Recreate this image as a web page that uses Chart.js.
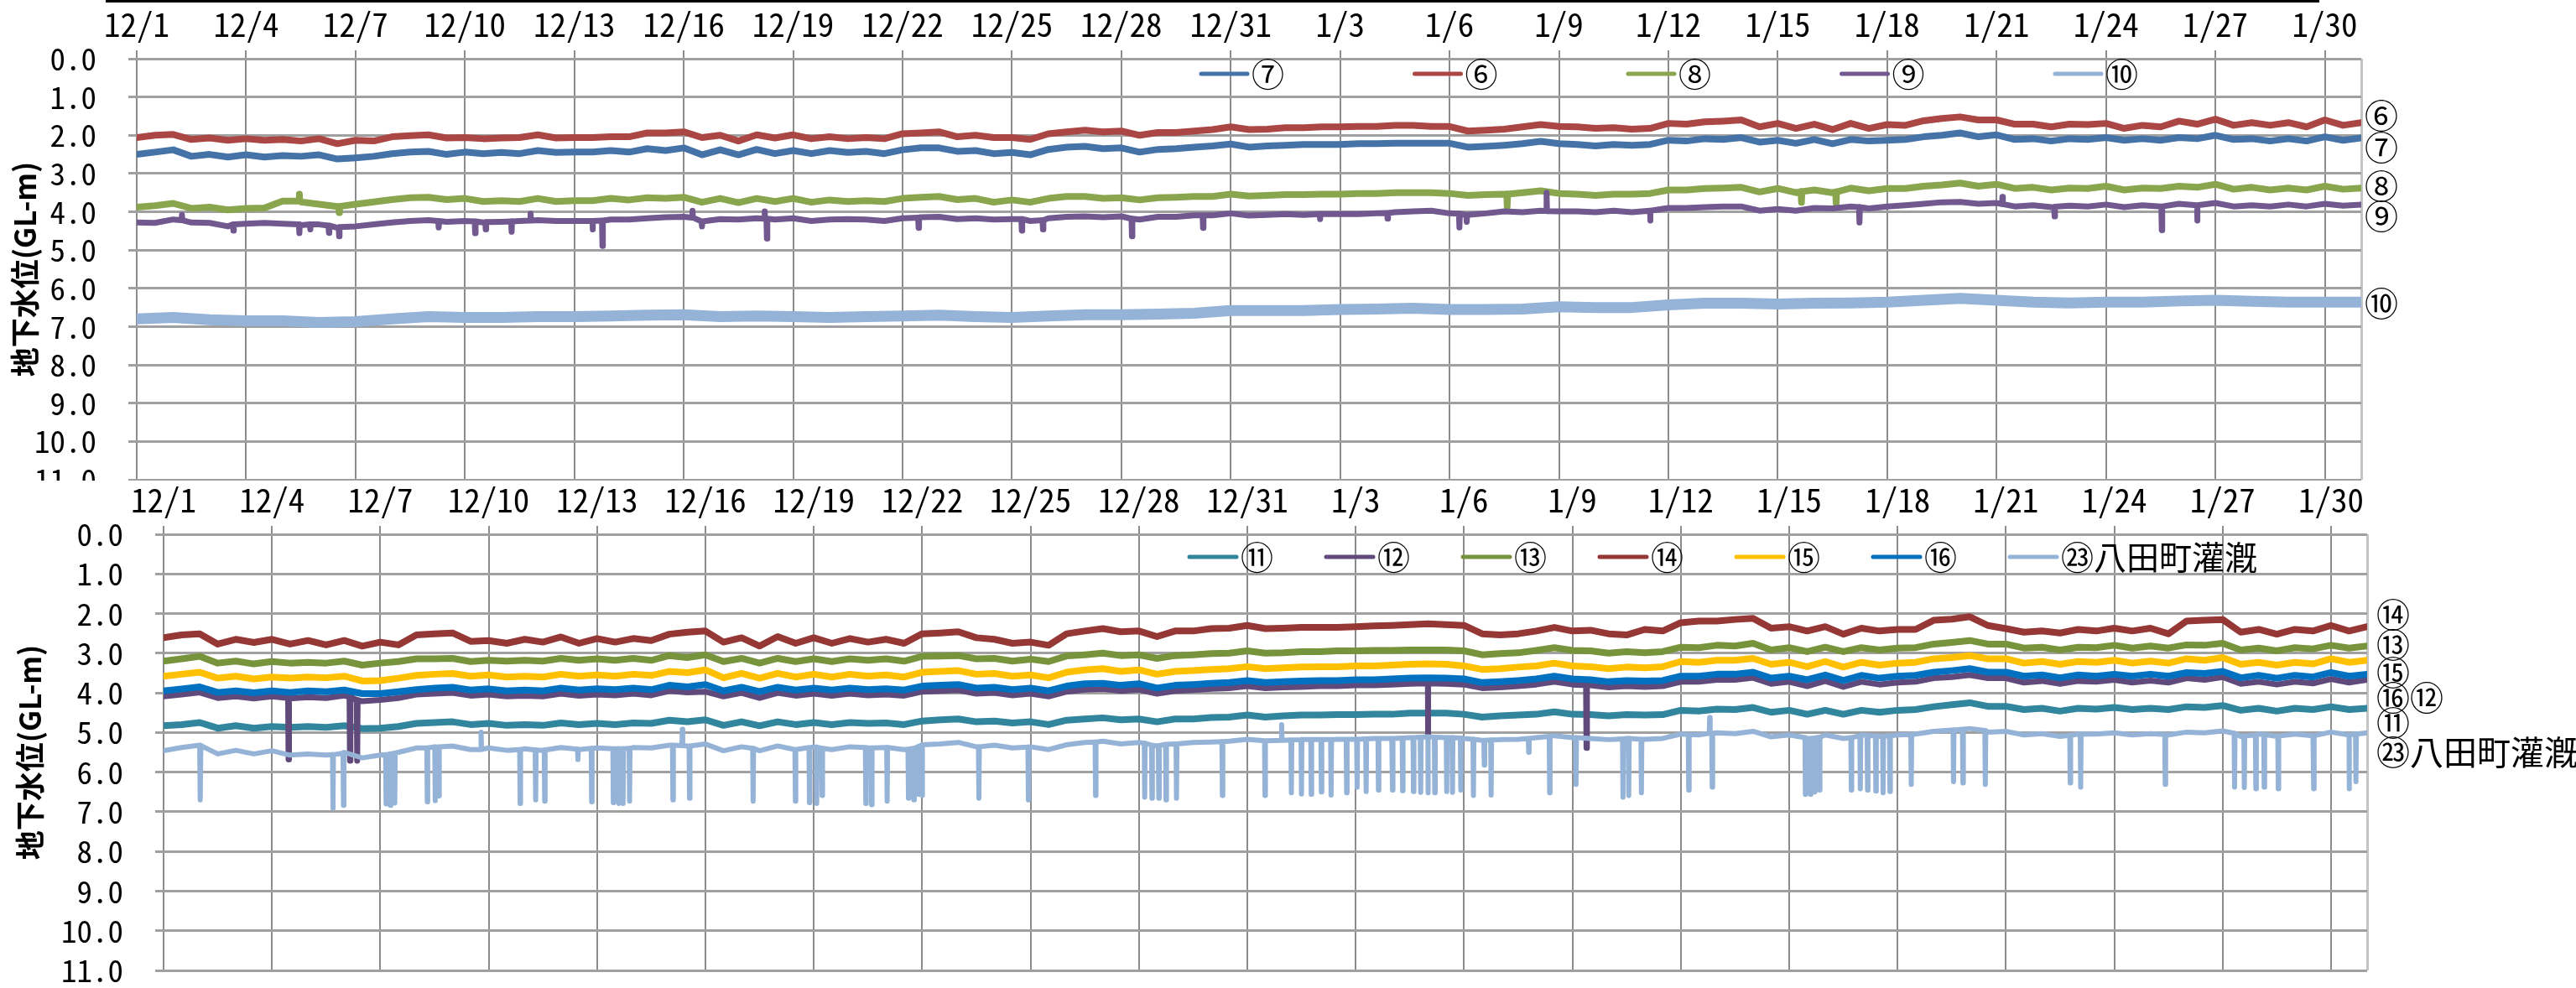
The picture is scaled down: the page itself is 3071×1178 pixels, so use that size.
<!DOCTYPE html>
<html><head><meta charset="utf-8">
<script src="https://cdn.jsdelivr.net/npm/chart.js@4.4.1/dist/chart.umd.min.js"></script>
<style>
html,body{margin:0;padding:0;background:#fff;overflow:hidden;width:3071px;height:1178px;}
canvas{position:absolute;left:0;background:#fff;}
#c1{top:0;z-index:1}
#c2{top:573px;z-index:2}
</style></head><body>
<canvas id="c1" width="3071" height="650" style="width:3071px;height:650px"></canvas>
<canvas id="c2" width="3071" height="660" style="width:3071px;height:660px"></canvas>
<script>
// ---------- axis ticks ----------
const xTickDays = [0,3,6,9,12,15,18,21,24,27,30,33,36,39,42,45,48,51,54,57,60];
const xTickLabels = ['12/1','12/4','12/7','12/10','12/13','12/16','12/19','12/22','12/25','12/28','12/31','1/3','1/6','1/9','1/12','1/15','1/18','1/21','1/24','1/27','1/30'];
const xEndDay = 61;
const yTickValues = [0,1,2,3,4,5,6,7,8,9,10,11];
const yTickLabels = ['0.0','1.0','2.0','3.0','4.0','5.0','6.0','7.0','8.0','9.0','10.0','11.0'];

// ---------- top chart series (half-day samples from 12/1 00:00) ----------
const topNames = ['⑦','⑥','⑧','⑨','⑩'];
const topColors = ['#4572A7','#AA4643','#89A54E','#71588F','#95B3D7'];
const well6 = [
2.06,2.00,1.98,2.11,2.07,2.13,2.09,2.13,2.11,2.15,
2.09,2.22,2.13,2.15,2.04,2.01,1.99,2.07,2.06,2.09,
2.07,2.06,1.99,2.07,2.06,2.06,2.04,2.04,1.94,1.94,
1.91,2.06,2.00,2.15,1.99,2.07,1.99,2.09,2.04,2.09,
2.06,2.09,1.96,1.94,1.91,2.04,2.00,2.06,2.06,2.11,
1.96,1.91,1.87,1.91,1.89,2.00,1.93,1.93,1.89,1.85,
1.78,1.85,1.84,1.80,1.80,1.78,1.78,1.77,1.77,1.74,
1.74,1.77,1.77,1.89,1.87,1.84,1.78,1.72,1.77,1.78,
1.82,1.80,1.84,1.82,1.69,1.71,1.65,1.63,1.60,1.78,
1.69,1.82,1.71,1.85,1.69,1.82,1.72,1.74,1.62,1.56,
1.52,1.60,1.60,1.71,1.71,1.78,1.71,1.72,1.69,1.82,
1.74,1.78,1.63,1.71,1.58,1.74,1.67,1.74,1.67,1.78,
1.60,1.74,1.67];
const well7 = [
2.50,2.44,2.38,2.55,2.50,2.57,2.51,2.57,2.53,2.55,
2.51,2.62,2.59,2.55,2.48,2.44,2.42,2.50,2.44,2.48,
2.45,2.48,2.40,2.45,2.44,2.44,2.40,2.44,2.35,2.40,
2.33,2.51,2.38,2.51,2.37,2.48,2.40,2.48,2.40,2.45,
2.42,2.48,2.38,2.33,2.33,2.42,2.40,2.48,2.45,2.51,
2.37,2.31,2.29,2.35,2.33,2.44,2.37,2.35,2.31,2.28,
2.23,2.31,2.28,2.26,2.24,2.24,2.24,2.22,2.22,2.21,
2.21,2.21,2.21,2.31,2.29,2.26,2.22,2.16,2.22,2.24,
2.28,2.24,2.26,2.24,2.13,2.15,2.09,2.11,2.06,2.18,
2.13,2.21,2.11,2.22,2.11,2.15,2.13,2.11,2.04,2.00,
1.94,2.04,1.99,2.11,2.09,2.15,2.09,2.11,2.06,2.13,
2.09,2.13,2.06,2.09,2.00,2.11,2.09,2.15,2.09,2.15,
2.04,2.13,2.07];
const well8 = [
3.88,3.84,3.78,3.91,3.88,3.95,3.91,3.90,3.72,3.74,
3.80,3.86,3.80,3.74,3.68,3.63,3.62,3.68,3.65,3.73,
3.71,3.73,3.65,3.73,3.71,3.71,3.65,3.69,3.63,3.65,
3.62,3.75,3.65,3.76,3.65,3.73,3.65,3.75,3.69,3.73,
3.71,3.73,3.65,3.62,3.60,3.68,3.65,3.75,3.69,3.75,
3.65,3.60,3.60,3.65,3.63,3.69,3.63,3.62,3.60,3.60,
3.54,3.59,3.57,3.55,3.55,3.54,3.54,3.52,3.52,3.50,
3.50,3.50,3.52,3.57,3.55,3.54,3.50,3.45,3.52,3.54,
3.57,3.54,3.54,3.52,3.43,3.43,3.39,3.38,3.36,3.48,
3.39,3.50,3.43,3.50,3.38,3.45,3.39,3.39,3.33,3.30,
3.25,3.33,3.28,3.39,3.36,3.43,3.38,3.39,3.33,3.43,
3.38,3.39,3.33,3.36,3.28,3.41,3.36,3.43,3.38,3.43,
3.33,3.41,3.38];
const well9 = [
4.28,4.29,4.20,4.28,4.29,4.38,4.31,4.29,4.31,4.35,
4.33,4.42,4.38,4.33,4.28,4.24,4.22,4.26,4.24,4.28,
4.26,4.24,4.22,4.24,4.24,4.24,4.20,4.20,4.17,4.14,
4.13,4.28,4.19,4.20,4.17,4.20,4.17,4.24,4.20,4.19,
4.20,4.24,4.17,4.14,4.13,4.19,4.17,4.20,4.19,4.24,
4.17,4.13,4.12,4.14,4.12,4.20,4.13,4.13,4.09,4.09,
4.04,4.10,4.08,4.06,4.08,4.06,4.06,4.06,4.04,4.01,
3.99,3.97,4.04,4.08,4.04,3.99,4.01,3.97,3.99,3.99,
4.01,3.97,4.01,3.97,3.90,3.90,3.88,3.86,3.86,3.97,
3.93,3.97,3.90,3.91,3.86,3.91,3.86,3.83,3.79,3.75,
3.74,3.79,3.77,3.86,3.83,3.88,3.84,3.86,3.81,3.88,
3.83,3.86,3.79,3.83,3.77,3.86,3.83,3.86,3.81,3.86,
3.79,3.84,3.81];
// daily samples
const well10 = [
6.80,6.76,6.82,6.85,6.85,6.89,6.87,6.80,6.74,6.76,
6.76,6.74,6.74,6.72,6.70,6.69,6.74,6.72,6.74,6.76,
6.74,6.72,6.70,6.74,6.76,6.72,6.69,6.69,6.67,6.65,
6.58,6.58,6.58,6.55,6.54,6.52,6.55,6.55,6.54,6.48,
6.50,6.50,6.43,6.39,6.39,6.41,6.39,6.38,6.36,6.31,
6.26,6.31,6.36,6.38,6.36,6.36,6.33,6.31,6.34,6.36,
6.36,6.36];
// short spikes: [day, level beside spike, spike level]
const spikes8 = [[4.46,3.72,3.54],[5.55,3.86,4.02],[37.58,3.54,3.86],[45.65,3.47,3.75],[46.60,3.48,3.78]];
const spikes9 = [
[1.24,4.22,4.08],[2.65,4.33,4.49],[4.46,4.33,4.56],[4.76,4.33,4.46],[5.27,4.36,4.55],[5.55,4.40,4.64],
[8.28,4.24,4.41],[9.28,4.25,4.56],[9.57,4.27,4.46],[10.28,4.25,4.52],[10.80,4.23,4.05],[12.50,4.24,4.46],
[12.77,4.23,4.89],[15.24,4.15,3.97],[15.50,4.25,4.38],[17.22,4.18,3.99],[17.28,4.18,4.70],[21.44,4.15,4.42],
[24.27,4.19,4.49],[24.85,4.22,4.46],[27.29,4.18,4.64],[29.24,4.09,4.42],
[32.45,4.06,4.19],[34.30,4.03,4.18],[36.27,4.05,4.41],[36.47,4.08,4.26],[38.66,3.98,3.50],[41.50,3.97,4.23],
[47.24,3.88,4.28],[51.16,3.80,3.61],[52.59,3.87,4.12],[55.53,3.86,4.48],[56.50,3.83,4.23]];

// ---------- bottom chart series ----------
const bottomNames = ['⑪','⑫','⑬','⑭','⑮','⑯','㉓八田町灌漑'];
const bottomColors = ['#31859C','#604A7B','#77933C','#953735','#FFC000','#0070C0','#95B3D7'];
const well11 = [
4.83,4.80,4.75,4.89,4.83,4.89,4.85,4.87,4.85,4.87,
4.83,4.90,4.89,4.85,4.77,4.75,4.73,4.80,4.77,4.82,
4.80,4.82,4.76,4.80,4.77,4.80,4.76,4.77,4.69,4.73,
4.68,4.82,4.73,4.83,4.73,4.80,4.75,4.80,4.75,4.77,
4.76,4.80,4.71,4.68,4.66,4.73,4.71,4.76,4.73,4.80,
4.69,4.66,4.63,4.68,4.66,4.73,4.66,4.66,4.62,4.61,
4.56,4.61,4.58,4.56,4.56,4.55,4.55,4.54,4.54,4.51,
4.51,4.51,4.54,4.61,4.58,4.56,4.54,4.48,4.54,4.55,
4.58,4.55,4.56,4.55,4.44,4.46,4.41,4.42,4.37,4.49,
4.44,4.54,4.44,4.54,4.44,4.49,4.44,4.42,4.35,4.30,
4.25,4.34,4.34,4.42,4.39,4.46,4.39,4.41,4.37,4.42,
4.39,4.42,4.35,4.37,4.32,4.44,4.39,4.46,4.39,4.42,
4.35,4.42,4.39];
const well12 = [
4.09,4.04,3.99,4.13,4.09,4.14,4.09,4.14,4.11,4.13,
4.07,4.21,4.18,4.13,4.04,4.02,4.00,4.07,4.04,4.09,
4.07,4.09,4.02,4.07,4.04,4.06,4.02,4.06,3.95,3.99,
3.97,4.09,4.00,4.13,4.00,4.07,4.02,4.07,4.02,4.06,
4.04,4.07,3.97,3.95,3.93,4.02,4.00,4.06,4.02,4.09,
3.97,3.92,3.90,3.95,3.92,4.02,3.95,3.93,3.90,3.88,
3.83,3.88,3.86,3.85,3.83,3.83,3.81,3.81,3.79,3.77,
3.76,3.77,3.79,3.88,3.86,3.83,3.79,3.72,3.79,3.81,
3.86,3.83,3.85,3.83,3.72,3.72,3.67,3.67,3.62,3.77,
3.72,3.83,3.70,3.85,3.72,3.79,3.74,3.72,3.63,3.60,
3.55,3.63,3.63,3.74,3.70,3.77,3.70,3.72,3.67,3.74,
3.69,3.74,3.63,3.67,3.60,3.77,3.72,3.79,3.72,3.76,
3.65,3.74,3.67];
const well13 = [
3.20,3.14,3.08,3.25,3.20,3.27,3.21,3.25,3.23,3.25,
3.20,3.30,3.25,3.21,3.14,3.14,3.13,3.21,3.18,3.20,
3.18,3.20,3.13,3.18,3.14,3.18,3.13,3.18,3.06,3.11,
3.04,3.21,3.13,3.25,3.13,3.21,3.14,3.21,3.14,3.18,
3.14,3.20,3.08,3.07,3.06,3.14,3.13,3.20,3.15,3.21,
3.07,3.04,3.00,3.06,3.04,3.13,3.06,3.04,3.01,3.00,
2.94,3.00,2.99,2.96,2.96,2.94,2.94,2.93,2.93,2.92,
2.92,2.92,2.94,3.04,3.01,2.99,2.93,2.86,2.93,2.94,
3.00,2.96,2.99,2.96,2.85,2.86,2.80,2.82,2.75,2.92,
2.86,2.96,2.85,2.96,2.86,2.92,2.87,2.86,2.77,2.73,
2.68,2.77,2.77,2.87,2.85,2.92,2.85,2.86,2.80,2.87,
2.82,2.87,2.79,2.80,2.75,2.92,2.87,2.94,2.86,2.89,
2.80,2.87,2.82];
const well14 = [
2.61,2.54,2.51,2.77,2.65,2.73,2.65,2.77,2.68,2.79,
2.68,2.82,2.72,2.79,2.54,2.51,2.49,2.70,2.68,2.75,
2.65,2.72,2.59,2.75,2.63,2.72,2.63,2.68,2.52,2.47,
2.44,2.72,2.61,2.82,2.58,2.75,2.61,2.75,2.63,2.72,
2.65,2.75,2.51,2.49,2.46,2.61,2.65,2.75,2.72,2.80,
2.51,2.44,2.38,2.46,2.44,2.58,2.44,2.44,2.38,2.37,
2.30,2.38,2.37,2.35,2.35,2.35,2.33,2.31,2.30,2.28,
2.26,2.28,2.30,2.51,2.54,2.51,2.44,2.35,2.44,2.42,
2.51,2.54,2.40,2.44,2.23,2.19,2.19,2.15,2.12,2.37,
2.33,2.44,2.33,2.52,2.37,2.44,2.40,2.40,2.17,2.14,
2.08,2.30,2.38,2.47,2.44,2.49,2.40,2.44,2.37,2.44,
2.37,2.51,2.19,2.17,2.15,2.47,2.40,2.52,2.40,2.44,
2.30,2.44,2.33];
const well15 = [
3.58,3.53,3.48,3.63,3.58,3.65,3.60,3.63,3.60,3.62,
3.58,3.70,3.69,3.63,3.56,3.53,3.51,3.58,3.55,3.60,
3.58,3.60,3.53,3.58,3.55,3.58,3.53,3.56,3.46,3.49,
3.42,3.62,3.51,3.63,3.51,3.60,3.53,3.60,3.53,3.58,
3.55,3.60,3.48,3.46,3.44,3.53,3.51,3.58,3.55,3.62,
3.48,3.42,3.39,3.46,3.42,3.53,3.46,3.44,3.41,3.39,
3.34,3.39,3.37,3.35,3.34,3.34,3.32,3.32,3.30,3.28,
3.27,3.28,3.32,3.41,3.39,3.35,3.32,3.25,3.32,3.34,
3.39,3.35,3.37,3.34,3.21,3.23,3.18,3.18,3.13,3.28,
3.23,3.34,3.21,3.35,3.23,3.30,3.25,3.23,3.14,3.11,
3.06,3.14,3.14,3.25,3.21,3.28,3.21,3.23,3.18,3.25,
3.20,3.25,3.14,3.18,3.11,3.28,3.23,3.30,3.23,3.27,
3.14,3.23,3.18];
const well16 = [
3.95,3.90,3.85,3.99,3.95,4.00,3.95,3.99,3.95,3.97,
3.93,4.02,4.02,3.97,3.92,3.88,3.86,3.93,3.90,3.95,
3.93,3.95,3.88,3.93,3.90,3.92,3.88,3.92,3.81,3.85,
3.79,3.95,3.86,3.97,3.86,3.93,3.88,3.93,3.88,3.92,
3.90,3.93,3.83,3.81,3.79,3.88,3.86,3.92,3.88,3.95,
3.83,3.77,3.76,3.81,3.77,3.88,3.81,3.79,3.76,3.74,
3.69,3.74,3.72,3.70,3.69,3.69,3.67,3.67,3.65,3.63,
3.62,3.63,3.65,3.74,3.72,3.69,3.65,3.58,3.65,3.67,
3.72,3.69,3.70,3.69,3.58,3.58,3.53,3.53,3.48,3.63,
3.58,3.67,3.55,3.69,3.56,3.63,3.58,3.56,3.48,3.44,
3.39,3.48,3.48,3.58,3.55,3.62,3.55,3.58,3.53,3.58,
3.53,3.58,3.49,3.51,3.46,3.62,3.56,3.63,3.56,3.60,
3.49,3.58,3.53];
const well23 = [
5.46,5.38,5.32,5.54,5.45,5.54,5.46,5.57,5.54,5.57,
5.50,5.64,5.57,5.50,5.39,5.36,5.34,5.43,5.39,5.45,
5.41,5.45,5.38,5.43,5.39,5.41,5.38,5.39,5.32,5.34,
5.29,5.46,5.36,5.46,5.34,5.43,5.36,5.43,5.36,5.39,
5.38,5.43,5.31,5.29,5.25,5.36,5.32,5.39,5.36,5.43,
5.31,5.25,5.22,5.29,5.25,5.34,5.29,5.25,5.24,5.22,
5.17,5.21,5.20,5.18,5.18,5.17,5.17,5.15,5.15,5.13,
5.11,5.13,5.15,5.20,5.18,5.17,5.13,5.08,5.13,5.15,
5.18,5.15,5.17,5.15,5.04,5.06,5.01,5.03,4.97,5.11,
5.06,5.15,5.06,5.15,5.06,5.10,5.06,5.04,4.97,4.94,
4.90,4.99,4.97,5.06,5.03,5.10,5.04,5.04,5.01,5.06,
5.03,5.06,4.99,5.01,4.96,5.10,5.04,5.10,5.04,5.08,
4.99,5.06,5.01];
const spikes12 = [[3.46,4.13,5.68],[5.16,4.10,5.71],[5.36,4.18,5.71],[35.00,3.76,5.11],[39.39,3.81,5.39]];
const spikes23 = [
[1.02,5.33,6.70],[4.69,5.56,6.91],[4.98,5.52,6.84],[6.16,5.56,6.80],[6.28,5.54,6.84],[6.40,5.52,6.78],
[7.30,5.39,6.75],[7.52,5.37,6.72],[7.62,5.36,6.60],[8.79,5.43,4.99],[9.87,5.43,6.79],[10.30,5.44,6.70],
[10.55,5.44,6.73],[11.47,5.42,5.68],[11.85,5.40,6.75],[12.45,5.41,6.77],[12.60,5.41,6.79],[12.72,5.41,6.79],
[12.90,5.40,6.73],[14.10,5.32,6.70],[14.36,5.33,4.92],[14.56,5.34,6.66],[16.32,5.40,6.73],[17.49,5.43,6.73],
[17.88,5.38,6.77],[18.08,5.37,6.79],[18.23,5.40,6.59],[19.44,5.38,6.79],[19.60,5.39,6.82],[20.03,5.38,6.73],
[20.62,5.42,6.66],[20.77,5.40,6.70],[20.91,5.35,6.56],[21.00,5.31,6.59],[22.57,5.36,6.66],[23.94,5.37,6.70],
[25.80,5.24,6.59],[27.16,5.27,6.63],[27.36,5.32,6.66],[27.55,5.33,6.66],[27.75,5.30,6.70],[28.04,5.29,6.66],
[29.31,5.23,6.59],[30.49,5.21,6.59],[30.95,5.20,4.80],[31.22,5.19,6.52],[31.50,5.18,6.55],[31.77,5.18,6.56],
[32.05,5.18,6.50],[32.32,5.18,6.58],[32.75,5.17,6.52],[33.04,5.17,6.38],[33.29,5.16,6.49],[33.63,5.15,6.45],
[34.02,5.15,6.45],[34.30,5.14,6.47],[34.60,5.13,6.49],[34.80,5.12,6.51],[35.00,5.11,6.52],[35.19,5.12,6.52],
[35.52,5.13,6.49],[35.68,5.13,6.51],[35.91,5.14,6.45],[36.26,5.17,6.59],[36.56,5.20,5.82],[36.75,5.19,6.58],
[37.79,5.15,5.50],[38.37,5.10,6.52],[39.10,5.13,6.31],[40.40,5.16,6.63],[40.56,5.15,6.59],[40.91,5.17,6.52],
[42.22,5.05,6.45],[42.80,5.02,4.62],[42.87,5.02,6.38],[45.45,5.13,6.56],[45.60,5.15,6.56],[45.70,5.14,6.50],
[45.84,5.12,6.45],[46.72,5.13,6.45],[46.97,5.08,6.42],[47.17,5.07,6.45],[47.40,5.09,6.48],[47.60,5.10,6.52],
[47.79,5.08,6.49],[48.38,5.05,6.31],[49.55,4.94,6.24],[49.81,4.92,6.27],[50.43,4.95,6.31],[52.78,5.07,6.27],
[53.07,5.04,6.38],[55.41,5.05,6.31],[57.33,5.02,6.38],[57.60,5.09,6.39],[57.92,5.06,6.42],[58.15,5.05,6.38],
[58.54,5.09,6.42],[59.52,5.08,6.42],[60.50,5.06,6.42],[60.69,5.04,6.24]];

// ---------- helpers ----------
const TICK_FONT = "'Noto Sans Mono CJK JP','Noto Sans CJK JP',sans-serif";
const JP_FONT = "'Noto Sans CJK JP',sans-serif";
function halfDay(values){ return values.map((v,i)=>({x:i/2, y:v})); }
function daily(values){ return values.map((v,i)=>({x:i, y:v})); }
function withSpikes(points, spikes){
  const extra = [];
  spikes.forEach(([d,b,v]) => { extra.push({x:d-0.012,y:b},{x:d,y:v},{x:d+0.012,y:b}); });
  return points.concat(extra).sort((a,b)=>a.x-b.x);
}

const decorPlugin = {
  id: 'decor',
  beforeDraw(chart, args, o) {
    const ctx = chart.ctx;
    ctx.save();
    ctx.fillStyle = '#fff'; ctx.fillRect(0,0,chart.width,chart.height);
    if (o.topRule) { ctx.fillStyle = '#000'; ctx.fillRect(o.topRule[0], 0, o.topRule[1]-o.topRule[0], 3); }
    ctx.restore();
  },
  afterDatasetsDraw(chart, args, o) {
    const ctx = chart.ctx, area = chart.chartArea, ys = chart.scales.y;
    ctx.save();
    const lg = o.legend;
    ctx.textBaseline = 'middle'; ctx.textAlign = 'left';
    ctx.font = lg.size + 'px ' + JP_FONT;
    chart.data.datasets.forEach((ds, k) => {
      const x = lg.x + k*lg.step;
      ctx.strokeStyle = ds.borderColor; ctx.lineWidth = 5; ctx.lineCap = 'round';
      ctx.beginPath(); ctx.moveTo(x, lg.y); ctx.lineTo(x+lg.len, lg.y); ctx.stroke();
      ctx.fillStyle = '#000'; ctx.fillText(ds.label, x+lg.len+5, lg.y);
    });
    ctx.font = o.endSize + 'px ' + JP_FONT;
    ctx.fillStyle = '#000';
    o.endLabels.forEach(l => ctx.fillText(l.text, area.right + o.endDx, ys.getPixelForValue(l.value)));
    ctx.restore();
  }
};

function scalesCfg(o) {
  const isEnd = c => c.tick && c.tick.value === xEndDay;
  return {
    x: {
      type:'linear', position:'top', min:0, max:xEndDay,
      afterBuildTicks: s => { s.ticks = xTickDays.concat([xEndDay]).map(v => ({value:v})); },
      afterFit: s => { s.height = o.xHeight; },
      ticks: { autoSkip:false, maxRotation:0, minRotation:0, padding:o.xPad, color:'#000',
        font:{family:TICK_FONT, size:39},
        callback: v => { const i = xTickDays.indexOf(v); return i >= 0 ? xTickLabels[i] : ''; } },
      grid: { color: c => isEnd(c) ? '#C4C4C4' : '#8C8C8C', lineWidth: c => isEnd(c) ? 3 : 2,
              tickColor: c => isEnd(c) ? 'rgba(0,0,0,0)' : '#8C8C8C', tickLength:10 },
      border: { display:false }
    },
    y: {
      type:'linear', position:'left', reverse:true, min:0, max:11,
      afterBuildTicks: s => { s.ticks = yTickValues.map(v => ({value:v})); },
      afterFit: s => { s.width = o.yWidth; },
      ticks: { autoSkip:false, padding:38, color:'#000', font:{family:TICK_FONT, size:37},
        callback: v => yTickLabels[yTickValues.indexOf(v)] },
      grid: { color:'#A0A0A0', lineWidth:3, tickLength:10, tickColor:'#A0A0A0' },
      border: { display:false },
      title: { display:true, text:'地下水位(GL-m)', color:'#000',
        font:{family:JP_FONT, size:35, weight:'bold'}, padding:{top:o.titlePad, bottom:0} }
    }
  };
}

function datasets(names, colors, data, widths) {
  const n = names.length;
  return names.map((nm,i) => ({
    label:nm, data:data[i], borderColor:colors[i], backgroundColor:colors[i],
    borderWidth:widths[i], pointRadius:0, tension:0, fill:false,
    borderJoinStyle:'round', borderCapStyle:'round', order:n-i
  }));
}

function build() {
  const topData = [halfDay(well7), halfDay(well6), withSpikes(halfDay(well8), spikes8),
                   withSpikes(halfDay(well9), spikes9), daily(well10)];
  new Chart(document.getElementById('c1'), {
    type:'line',
    data:{ datasets: datasets(topNames, topColors, topData, [8,8,8,7,13]) },
    options:{
      responsive:false, animation:false, devicePixelRatio:1,
      layout:{ padding:{left:0, right:256, top:0, bottom:78} },
      scales: scalesCfg({xHeight:70, xPad:7, yWidth:163, titlePad:9}),
      plugins:{ legend:{display:false}, tooltip:{enabled:false},
        decor:{ topRule:[126,2765], legend:{x:1432, y:88, step:254.5, len:55, size:39},
          endSize:40, endDx:4,
          endLabels:[{text:'⑥',value:1.48},{text:'⑦',value:2.32},{text:'⑧',value:3.33},{text:'⑨',value:4.12},{text:'⑩',value:6.39}] } }
    },
    plugins:[decorPlugin]
  });

  const botData = [halfDay(well11), withSpikes(halfDay(well12), spikes12), halfDay(well13), halfDay(well14),
                   halfDay(well15), halfDay(well16), withSpikes(halfDay(well23), spikes23)];
  new Chart(document.getElementById('c2'), {
    type:'line',
    data:{ datasets: datasets(bottomNames, bottomColors, botData, [8,7,8,8,8,8,6]) },
    options:{
      responsive:false, animation:false, devicePixelRatio:1,
      layout:{ padding:{left:0, right:249, top:0, bottom:76} },
      scales: scalesCfg({xHeight:64, xPad:7, yWidth:195, titlePad:15}),
      plugins:{ legend:{display:false}, tooltip:{enabled:false},
        decor:{ topRule:null, legend:{x:1418, y:91, step:163, len:56, size:39},
          endSize:40, endDx:11,
          endLabels:[{text:'⑭',value:2.02},{text:'⑬',value:2.78},{text:'⑮',value:3.48},{text:'⑯⑫',value:4.13},{text:'⑪',value:4.76},{text:'㉓八田町灌漑',value:5.50}] } }
    },
    plugins:[decorPlugin]
  });
}

const fontLoads = [
  document.fonts.load("36px 'Noto Sans Mono CJK JP'"),
  document.fonts.load("38px 'Noto Sans CJK JP'"),
  document.fonts.load("bold 35px 'Noto Sans CJK JP'")
];
let built = false;
function go(){ if (!built) { built = true; build(); } }
Promise.all(fontLoads).then(go, go);
setTimeout(go, 1500);
</script>
</body></html>
